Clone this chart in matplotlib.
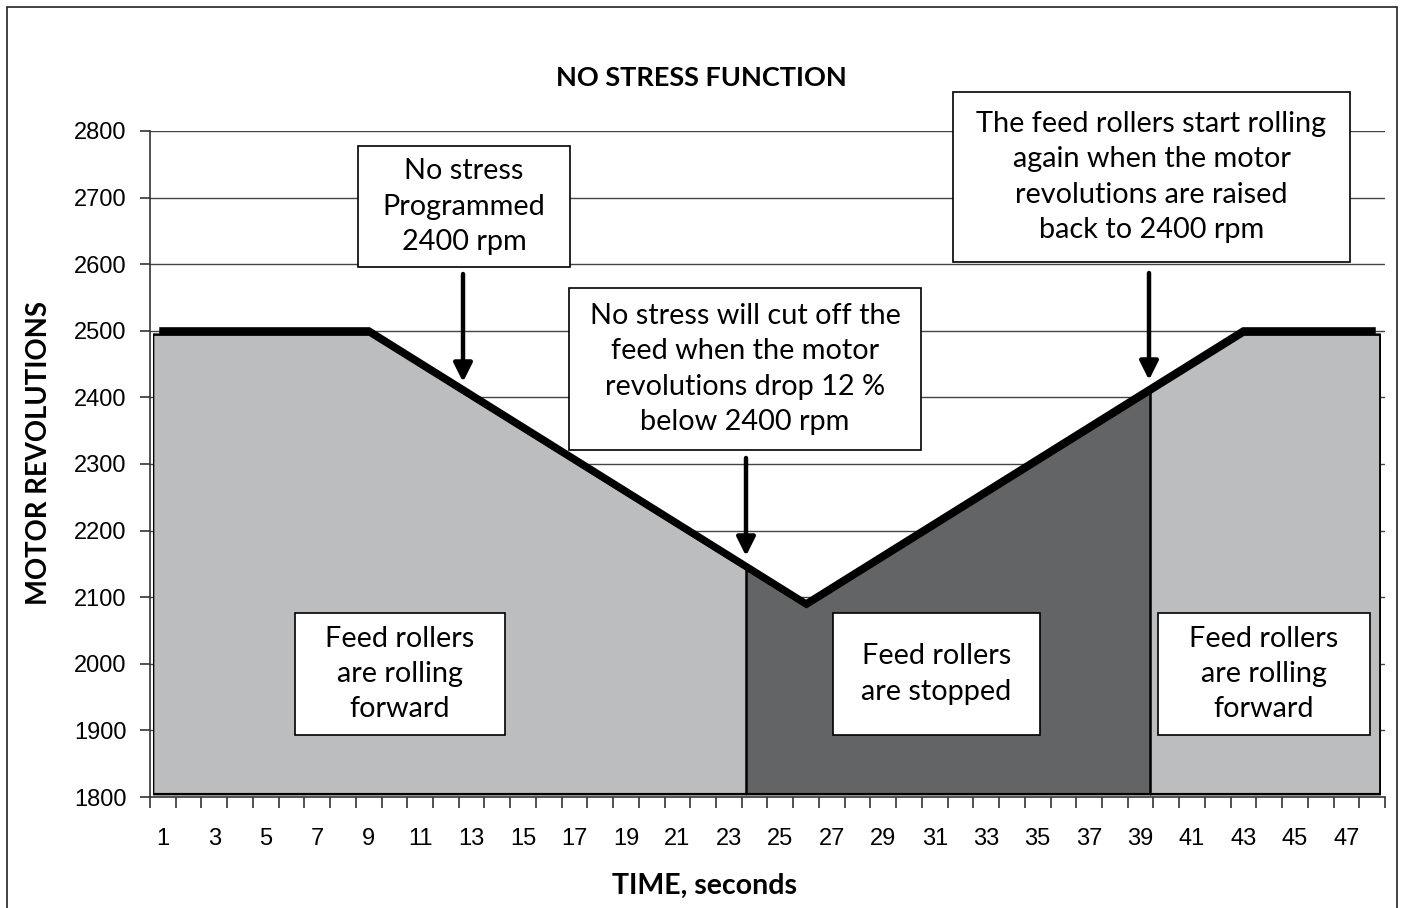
import numpy as np
import matplotlib
matplotlib.use("Agg")
import matplotlib.pyplot as plt
from matplotlib.patches import Rectangle

# motor rpm curve (vertices)
times = [1, 9, 26, 43, 48]
rpm = [2500, 2500, 2090, 2500, 2500]

# shaded area under the curve, slightly below the thick line
fill_times = [0.6, 9, 26, 43, 48.3]
fill_rpm = [2495, 2495, 2086, 2495, 2495]
fill_base = 1805

# phase boundaries (seconds)
cut_off = 23.66
resume = 39.36
phases = [(0.6, cut_off), (cut_off, resume), (resume, 48.3)]
phase_colors = ['#bcbdbf', '#636466', '#bcbdbf']

yticks = list(range(1800, 2900, 100))
xlabels = list(range(1, 49, 2))

FONT = 'Lato'

fig = plt.figure(figsize=(14.04, 9.08), dpi=100)
W, H = 1404, 908
ax = fig.add_axes([150 / W, 1 - 797 / H, (1385 - 150) / W, (797 - 131) / H])

ax.set_xlim(0.5, 48.5)
ax.set_ylim(1800, 2800)

# gridlines
for y in yticks[1:]:
    ax.axhline(y, color='#444444', lw=1.0, zorder=0)

# filled phases, clipped to their time windows
for (x0, x1), c in zip(phases, phase_colors):
    poly = ax.fill_between(fill_times, fill_rpm, fill_base, facecolor=c,
                           edgecolor='black', lw=1.8, zorder=2)
    clip = Rectangle((x0, 1700), x1 - x0, 1200, transform=ax.transData)
    poly.set_clip_path(clip)

# boundary lines between phases
base_poly = ax.fill_between(fill_times, fill_rpm, fill_base, facecolor='none',
                            edgecolor='none')
clip_path = base_poly.get_paths()[0]
for xb in [cut_off, resume]:
    ln = ax.vlines(xb, 1700, 2900, color='black', lw=1.8, zorder=3)
    ln.set_clip_path(clip_path, ax.transData)

ax.plot(times, rpm, color='black', lw=5.2, zorder=4, solid_joinstyle='miter')

# axes styling
for s in ['top', 'right']:
    ax.spines[s].set_visible(False)
for s in ['left', 'bottom']:
    ax.spines[s].set_color('#333333')
    ax.spines[s].set_linewidth(1.2)

ax.set_yticks(yticks)
ax.set_yticklabels([str(v) for v in yticks], fontfamily='Liberation Sans', fontsize=17)
ax.tick_params(axis='y', length=7, width=1.2, color='#333333', pad=10)

ax.set_xticks(xlabels)
ax.set_xticklabels([str(v) for v in xlabels], fontfamily='Liberation Sans', fontsize=17)
ax.set_xticks(np.arange(0.5, 49, 1), minor=True)
ax.tick_params(axis='x', which='major', length=0, pad=22)
ax.tick_params(axis='x', which='minor', length=8, width=1.2, color='#333333')

# labels and title
fig.text(701 / W, 1 - 78 / H, 'NO STRESS FUNCTION', ha='center', va='center',
         fontsize=19.5, fontweight='bold', fontfamily=FONT)
fig.text(705 / W, 1 - 886 / H, 'TIME, seconds', ha='center', va='center',
         fontsize=20.5, fontweight='bold', fontfamily=FONT)
fig.text(39 / W, 1 - 453 / H, 'MOTOR REVOLUTIONS', ha='center', va='center',
         rotation=90, fontsize=19.8, fontweight='bold', fontfamily=FONT)

# outer frame
fig.patches.append(Rectangle((7 / W, -0.02), (1397 - 7) / W, 1 - 7 / H + 0.02,
                             transform=fig.transFigure, fill=False,
                             edgecolor='#222222', lw=1.2))


def px2data(px, py):
    return (px - 150) / 25.729 + 0.5, 2800 - (py - 131) / 0.666


def note(x0, y0, x1, y1, text):
    (dx0, dy0), (dx1, dy1) = px2data(x0, y1), px2data(x1, y0)
    ax.add_patch(Rectangle((dx0, dy0), dx1 - dx0, dy1 - dy0, facecolor='white',
                           edgecolor='black', lw=1.2, zorder=6, clip_on=False))
    cx, cy = px2data((x0 + x1) / 2, (y0 + y1) / 2)
    ax.text(cx, cy, text, ha='center', va='center', fontsize=20.8,
            fontfamily=FONT, linespacing=1.45, zorder=7)


note(358, 146, 570, 267, 'No stress\nProgrammed\n2400 rpm')
note(569, 288, 921, 450, 'No stress will cut off the\nfeed when the motor\n'
     'revolutions drop 12 %\nbelow 2400 rpm')
note(953, 92, 1350, 262, 'The feed rollers start rolling\nagain when the motor\n'
     'revolutions are raised\nback to 2400 rpm')
note(295, 613, 505, 735, 'Feed rollers\nare rolling\nforward')
note(833, 613, 1040, 735, 'Feed rollers\nare stopped')
note(1158, 613, 1370, 735, 'Feed rollers\nare rolling\nforward')


def arrow(px, py0, py1):
    x, y0 = px2data(px, py0)
    _, y1 = px2data(px, py1)
    ax.annotate('', xy=(x, y1), xytext=(x, y0),
                arrowprops=dict(arrowstyle='-|>', color='black', lw=3.2,
                                mutation_scale=28, shrinkA=0, shrinkB=0),
                zorder=8)


arrow(463, 274, 382)
arrow(746, 458, 556)
arrow(1149, 273, 380)

fig.savefig('out.png', dpi=100)
